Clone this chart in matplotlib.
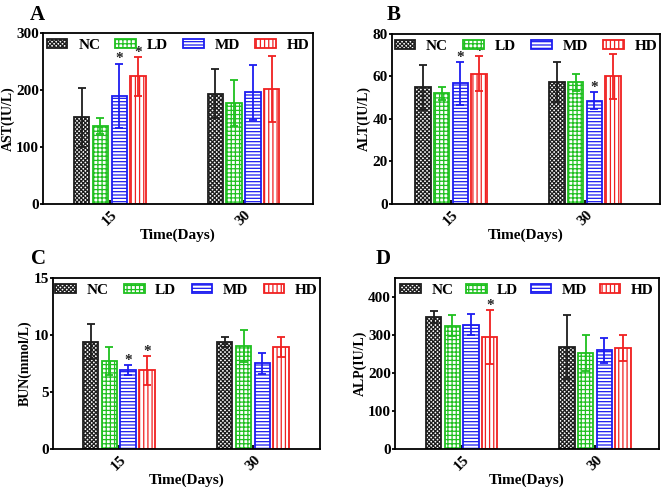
import numpy as np
import matplotlib
matplotlib.use('Agg')
import matplotlib.pyplot as plt

plt.rcParams['font.family'] = ['Liberation Serif', 'DejaVu Serif']
plt.rcParams['font.weight'] = 'bold'
plt.rcParams['hatch.linewidth'] = 0.9

# data
days = ['15', '30']
groups = ['NC', 'LD', 'MD', 'HD']

ast_mean = [[152, 137, 190, 224], [193, 177, 196, 202]]
ast_err = [[52, 14, 56, 34], [43, 41, 48, 58]]
ast_star = [[0, 0, 1, 1], [0, 0, 0, 0]]

alt_mean = [[54.9, 52.0, 56.8, 61.3], [57.2, 57.2, 48.7, 60.0]]
alt_err = [[10.7, 3.0, 10.0, 8.2], [9.4, 4.0, 4.0, 10.4]]
alt_star = [[0, 0, 1, 1], [0, 0, 1, 0]]

bun_mean = [[9.42, 7.72, 6.93, 6.90], [9.39, 9.04, 7.51, 8.95]]
bun_err = [[1.5, 1.2, 0.4, 1.26], [0.44, 1.4, 0.94, 0.88]]
bun_star = [[0, 0, 1, 1], [0, 0, 0, 0]]

alp_mean = [[349, 325, 328, 296], [269, 254, 260, 266]]
alp_err = [[16, 28, 28, 71], [84, 47, 32, 35]]
alp_star = [[0, 0, 0, 1], [0, 0, 0, 0]]

colors = ['#1e1e1e', '#1fc01f', '#1c1cf0', '#f02020']
hatches = ['xxxxxxxx', '++++', '-----', '||||']

panels = [
    # letter, ylabel, mean, err, star, ylim, yticks, axes rect, xlim, letter pos, legend colspacing
    ('A', 'AST(IU/L)', ast_mean, ast_err, ast_star, (0, 300), [0, 100, 200, 300],
     [0.0646, 0.5854, 0.4054, 0.3476], (-0.5, 1.52), (0.045, 0.99), 1.0),
    ('B', 'ALT(IU/L)', alt_mean, alt_err, alt_star, (0, 80), [0, 20, 40, 60, 80],
     [0.5886, 0.5854, 0.4024, 0.3455], (-0.44, 1.56), (0.580, 0.99), 1.0),
    ('C', 'BUN(mmol/L)', bun_mean, bun_err, bun_star, (0, 15), [0, 5, 10, 15],
     [0.0796, 0.0874, 0.4009, 0.3476], (-0.49, 1.5), (0.046, 0.493), 1.0),
    ('D', 'ALP(IU/L)', alp_mean, alp_err, alp_star, (0, 451), [0, 100, 200, 300, 400],
     [0.5931, 0.0874, 0.3964, 0.3476], (-0.5, 1.48), (0.564, 0.493), 0.8),
]

fig = plt.figure(figsize=(6.66, 4.92), dpi=100)

x = np.arange(len(days))
width = 0.115
step = 0.14

for letter, ylabel, mean, err, star, ylim, yticks, rect, xlim, lpos, colsp in panels:
    ax = fig.add_axes(rect)
    mean = np.array(mean)
    err = np.array(err)
    span = ylim[1] - ylim[0]
    for i, g in enumerate(groups):
        pos = x + (i - 1.5) * step
        ax.bar(pos, mean[:, i], width, color='white', edgecolor=colors[i],
               hatch=hatches[i], linewidth=1.3, label=g, zorder=2)
        ax.errorbar(pos, mean[:, i], yerr=err[:, i], fmt='none', ecolor=colors[i],
                    elinewidth=1.3, capsize=3, capthick=1.3, zorder=3)
        for j in range(len(days)):
            if star[j][i]:
                ax.text(pos[j], mean[j, i] + err[j, i] - span * 0.01, '*',
                        ha='center', va='bottom', fontsize=11, color='#222222')
    ax.set_xlim(*xlim)
    ax.set_ylim(*ylim)
    ax.set_yticks(yticks)
    ax.set_xticks(x)
    ax.set_xticklabels(days, rotation=45, ha='center', fontsize=11, fontweight='bold')
    ax.tick_params(axis='x', direction='in', length=3, width=1.3, pad=3)
    ax.tick_params(axis='y', direction='out', length=2, width=1.3, labelsize=11, pad=1)
    for lab in ax.get_yticklabels():
        lab.set_fontweight('bold')
    for s in ax.spines.values():
        s.set_linewidth(1.3)
    ax.set_ylabel(ylabel, fontsize=10, fontweight='bold', labelpad=1)
    ax.set_xlabel('Time(Days)', fontsize=11, fontweight='bold', labelpad=0)
    ax.legend(loc='upper center', ncol=4, frameon=False,
              handlelength=1.35, handleheight=0.5, columnspacing=colsp,
              handletextpad=0.7, borderaxespad=0.0, bbox_to_anchor=(0.5, 1.0),
              prop={'weight': 'bold', 'size': 11})
    fig.text(lpos[0], lpos[1], letter, fontsize=15, fontweight='bold', va='top', ha='left')

fig.savefig('out.png', dpi=100)
